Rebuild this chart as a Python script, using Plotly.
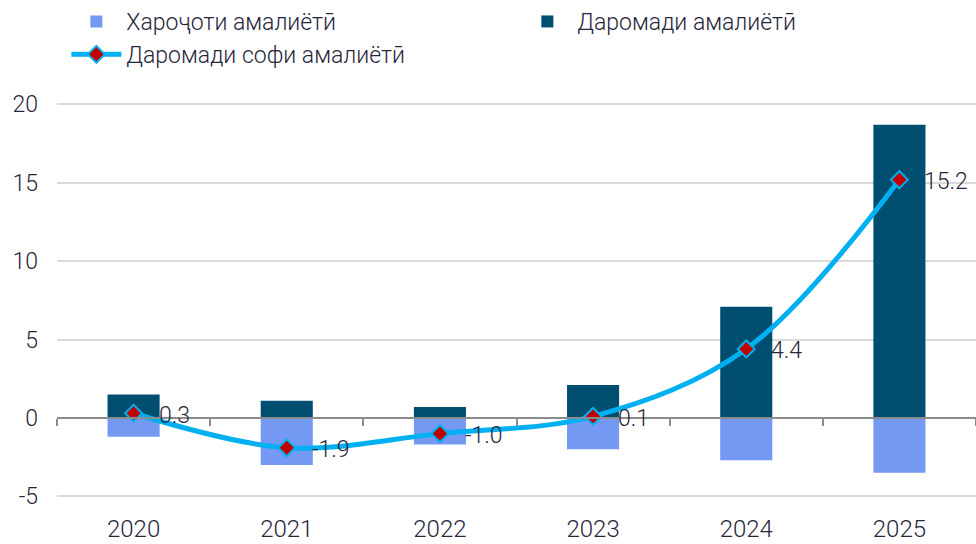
import plotly.graph_objects as go

years = ["2020", "2021", "2022", "2023", "2024", "2025"]
expenses = [-1.2, -3.0, -1.7, -2.0, -2.7, -3.5]
income = [1.5, 1.1, 0.7, 2.1, 7.1, 18.7]
net = [0.3, -1.9, -1.0, 0.1, 4.4, 15.2]
y_ticks = [-5, 0, 5, 10, 15, 20]

y_range = [-6.0, 20.6]
text_color = "#26263a"
font_family = "Roboto, 'Noto Sans', sans-serif"
fs = 23

fig = go.Figure()
fig.add_trace(go.Bar(
    x=years, y=expenses, name="Хароҷоти амалиётӣ",
    marker=dict(color="#7399f2", line=dict(width=0)), width=0.34,
))
fig.add_trace(go.Bar(
    x=years, y=income, name="Даромади амалиётӣ",
    marker=dict(color="#004f71", line=dict(width=0)), width=0.34,
))
fig.add_trace(go.Scatter(
    x=years, y=net, name="Даромади софи амалиётӣ",
    mode="lines+markers",
    line=dict(color="#00b0f0", width=5, shape="spline", smoothing=1.0),
    marker=dict(symbol="diamond", size=13, color="#c00000",
                line=dict(color="#00b0f0", width=2)),
))
fig.add_trace(go.Scatter(
    x=years, y=net, xaxis="x2", mode="markers", showlegend=False,
    marker=dict(opacity=0), hoverinfo="skip",
))

for i, v in enumerate(net):
    fig.add_annotation(
        x=i, y=v, xref="x", yref="y", text=f"{v:.1f}", showarrow=False,
        xanchor="left", yanchor="middle", xshift=23, yshift=-2,
        font=dict(size=fs, color=text_color, family=font_family, weight=300),
    )

zero_pos = (0 - y_range[0]) / (y_range[1] - y_range[0])

fig.update_layout(
    width=976, height=544,
    margin=dict(l=57, r=0, t=95, b=32, autoexpand=False),
    plot_bgcolor="white", paper_bgcolor="white",
    barmode="relative",
    font=dict(family=font_family, size=fs, color=text_color, weight=300),
    showlegend=True,
    legend=dict(
        orientation="h", xref="container", yref="container",
        x=0.068, y=1.0, xanchor="left", yanchor="top",
        entrywidth=386, entrywidthmode="pixels",
        font=dict(size=fs, color=text_color, weight=300),
        itemwidth=50, traceorder="normal",
        bgcolor="rgba(0,0,0,0)",
    ),
    xaxis=dict(
        type="category", categoryorder="array", categoryarray=years,
        showgrid=False, showline=False, ticks="",
        tickfont=dict(size=24, color=text_color, weight=300),
        range=[-0.5, 5.5],
    ),
    xaxis2=dict(
        type="category", categoryorder="array", categoryarray=years,
        overlaying="x", anchor="free", position=zero_pos, side="bottom",
        range=[-0.5, 5.5],
        showticklabels=False, showgrid=False,
        showline=True, linecolor="#8c8c8c", linewidth=2,
        ticks="outside", tickson="boundaries", ticklen=7,
        tickcolor="#8c8c8c", tickwidth=2,
    ),
    yaxis=dict(
        range=y_range, tickvals=y_ticks, ticktext=[str(t) for t in y_ticks],
        showgrid=True, gridcolor="#d9d9d9", gridwidth=2,
        zeroline=False, showline=False,
        tickfont=dict(size=fs, color=text_color, weight=300),
        ticklabelstandoff=18,
    ),
)

post = "document.body.style.margin='0';"
fig.write_html("out.html", post_script=post, config={"displayModeBar": False})
